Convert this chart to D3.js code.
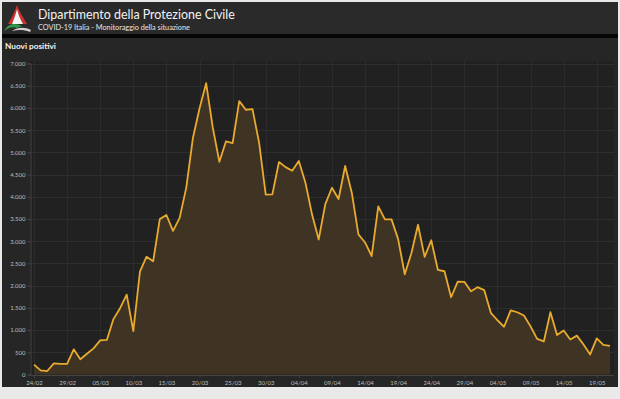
<!DOCTYPE html>
<html><head><meta charset="utf-8">
<script src="https://cdn.jsdelivr.net/npm/d3@7"></script>
<style>
html,body{margin:0;padding:0;background:#e9e9e9;}
svg{display:block;}
</style></head>
<body>
<svg id="c" width="620" height="399"></svg>
<script>
// ---- data ----
const startDate = "2020-02-24";
const nuoviPositivi = [221,93,78,250,238,240,566,342,466,587,769,778,1247,1492,1797,977,2313,2651,2547,3497,3590,3233,3526,4207,5322,5986,6557,5560,4789,5249,5210,6153,5959,5974,5217,4050,4053,4782,4668,4585,4805,4316,3599,3039,3836,4204,3951,4694,4092,3153,2972,2667,3786,3493,3491,3047,2256,2729,3370,2646,3021,2357,2324,1739,2091,2086,1872,1965,1900,1389,1221,1075,1444,1401,1327,1083,802,744,1402,888,992,789,875,675,451,813,665,642];
const xTickLabels = ["24/02","29/02","05/03","10/03","15/03","20/03","25/03","30/03","04/04","09/04","14/04","19/04","24/04","29/04","04/05","09/05","14/05","19/05"];
const yTicks = [0,500,1000,1500,2000,2500,3000,3500,4000,4500,5000,5500,6000,6500,7000];
const title = "Dipartimento della Protezione Civile";
const subtitle = "COVID-19 Italia - Monitoraggio della situazione";
const chartTitle = "Nuovi positivi";

const parse = d3.timeParse("%Y-%m-%d");
const fmtDay = d3.timeFormat("%d/%m");
const d0 = parse(startDate);
const dates = nuoviPositivi.map((v,i)=>d3.timeDay.offset(d0,i));
const data = dates.map((d,i)=>({date:d,value:nuoviPositivi[i]}));

const svg = d3.select("#c");
const FONT = "Lato, 'Open Sans', sans-serif";

// frame
svg.append("rect").attr("x",2).attr("y",2).attr("width",616).attr("height",32).attr("fill","#2a2a2a");
svg.append("rect").attr("x",2).attr("y",34).attr("width",616).attr("height",4).attr("fill","#050505");
svg.append("rect").attr("x",2).attr("y",38).attr("width",616).attr("height",349).attr("fill","#262626");

// logo
const logo = svg.append("g");
logo.append("path").attr("d","M17,5 C15,11 12,17 8,24 L12,24 C14,19 16,13 17,9 C18,13 20,19 23,24 L27,24 C23,17 19,11 17,5Z").attr("fill","#d3302c");
logo.append("path").attr("d","M12,24 C14,19 16,13 17,9 C18,13 20,19 23,24 Z").attr("fill","#f4f4f4");
logo.append("path").attr("d","M4,31 C8,24 14,22 22,26 L17,28 C12,26 8,28 4,31Z").attr("fill","#2f9a4a");
logo.append("path").attr("d","M12,31 C18,27 25,27 31,30 L30,32 C24,29.5 18,29.5 12,31Z").attr("fill","#cfcfcf");

function fitText(sel, target){
  const n = sel.node();
  const w = n.getComputedTextLength();
  const fs = parseFloat(sel.attr("font-size"));
  if (w>0) sel.attr("font-size", fs*target/w);
}
const t1 = svg.append("text").attr("x",38).attr("y",19).attr("fill","#f3f3f3")
  .attr("font-family",FONT).attr("font-size",14).text(title);
fitText(t1,197);
const t2 = svg.append("text").attr("x",38).attr("y",29.5).attr("fill","#e6e6e6")
  .attr("font-family",FONT).attr("font-size",7).text(subtitle);
fitText(t2,152);
const t3 = svg.append("text").attr("x",5).attr("y",48.5).attr("fill","#f5f5f5")
  .attr("font-family",FONT).attr("font-weight","bold").attr("font-size",9).text(chartTitle);
fitText(t3,51);

// scales
const x = d3.scaleTime().domain([dates[0], dates[dates.length-1]]).range([34,610]);
const y = d3.scaleLinear().domain([0,7000]).range([374.5,63.5]);

// plot bg
svg.append("rect").attr("x",30).attr("y",61).attr("width",584).attr("height",314).attr("fill","#212121");

const it = d3.formatLocale({decimal:",",thousands:".",grouping:[3],currency:["","€"]});
const yfmt = it.format(",");

// grid
const tickDates = xTickLabels.map(l=>dates.find(d=>fmtDay(d)===l));
svg.append("g").selectAll("line").data(yTicks).join("line")
  .attr("x1",30).attr("x2",614).attr("y1",d=>Math.round(y(d))+0.5).attr("y2",d=>Math.round(y(d))+0.5)
  .attr("stroke","#2e2e2e").attr("stroke-width",1);
svg.append("g").selectAll("line").data(tickDates).join("line")
  .attr("y1",61).attr("y2",375).attr("x1",d=>Math.round(x(d))+0.5).attr("x2",d=>Math.round(x(d))+0.5)
  .attr("stroke","#2c2c2c").attr("stroke-width",1);

// area + line
const area = d3.area().x(d=>x(d.date)).y0(y(0)).y1(d=>y(d.value));
const line = d3.line().x(d=>x(d.date)).y(d=>y(d.value));
svg.append("path").datum(data).attr("d",area).attr("fill","#3f3324");
svg.append("path").datum(data).attr("d",line).attr("fill","none")
  .attr("stroke","#e8ab2e").attr("stroke-width",1.8).attr("stroke-linejoin","round");

// axes
const yAxis = d3.axisLeft(y).tickValues(yTicks).tickFormat(yfmt).tickSize(3).tickPadding(2);
const gy = svg.append("g").attr("transform","translate(30.5,0)").call(yAxis);
gy.select(".domain").attr("stroke","#444");
gy.selectAll(".tick line").attr("stroke","#444");
gy.selectAll("text").attr("fill","#bdbdbd").attr("font-family",FONT).attr("font-size",6);

const xAxis = d3.axisBottom(x).tickValues(tickDates).tickFormat(fmtDay).tickSize(2).tickPadding(3);
const gx = svg.append("g").attr("transform","translate(0,375.5)").call(xAxis);
gx.select(".domain").attr("stroke","#444").attr("d","M30,0H614");
gx.selectAll(".tick line").attr("stroke","#444");
gx.selectAll("text").attr("fill","#bdbdbd").attr("font-family",FONT).attr("font-size",6);
</script>
</body></html>
